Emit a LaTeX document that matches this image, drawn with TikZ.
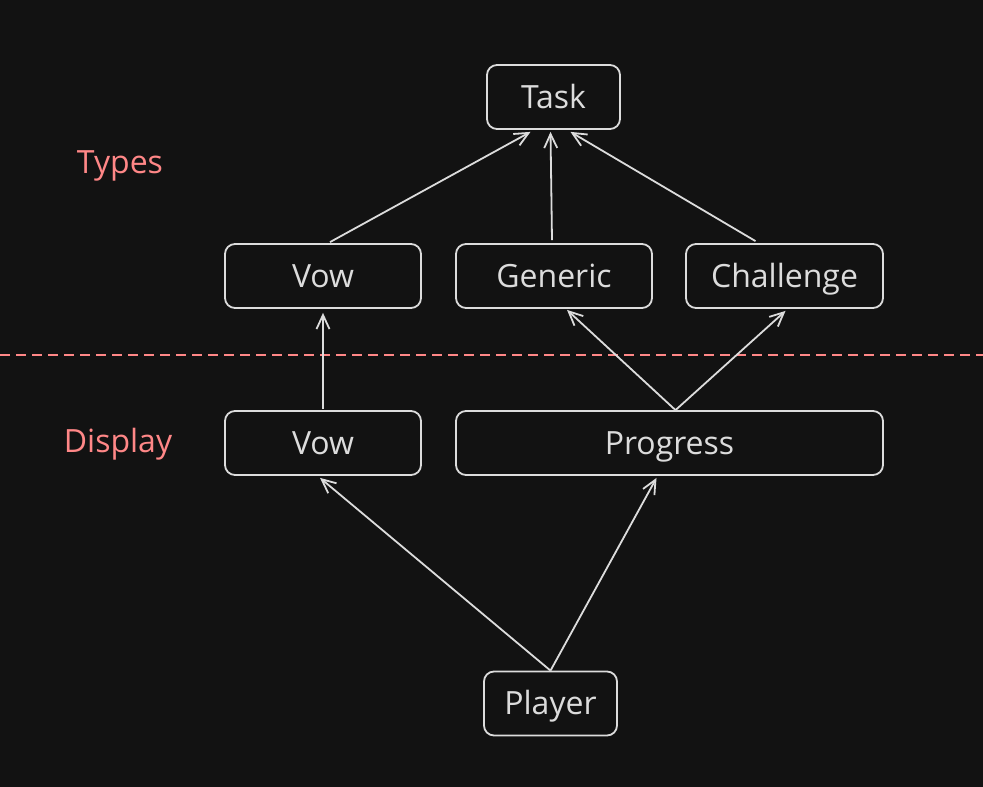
\documentclass[tikz,border=0pt]{standalone}
\usepackage{fontspec}
\setmainfont{Open Sans}
\usetikzlibrary{arrows.meta}
\definecolor{bg}{HTML}{121212}
\definecolor{ink}{HTML}{DCDCDC}
\definecolor{salmon}{HTML}{FF8787}
\begin{document}
\begin{tikzpicture}[x=1pt,y=-1pt,
  box/.style={draw=ink, line width=1.8pt, rounded corners=10pt, text=ink,
    minimum height=64pt, inner sep=0pt, text height=23pt, text depth=1pt,
    font=\fontsize{32}{38}\selectfont},
  lbl/.style={text=salmon, text height=23pt, text depth=1pt, font=\fontsize{32}{38}\selectfont},
  conn/.style={draw=ink, line width=1.8pt, -{Straight Barb[length=14pt,width=13pt,line width=1.8pt]}}]
\fill[bg] (0,0) rectangle (983,787);
\useasboundingbox (0,0) rectangle (983,787);
\node[box, minimum width=133pt] (task) at (553.5,97) {Task};
\node[box, minimum width=196pt] (vowT) at (323,276) {Vow};
\node[box, minimum width=196pt] (gen) at (554,276) {Generic};
\node[box, minimum width=197pt] (chal) at (784.5,276) {Challenge};
\node[box, minimum width=196pt] (vowD) at (323,443) {Vow};
\node[box, minimum width=427pt] (prog) at (669.5,443) {Progress};
\node[box, minimum width=133pt] (player) at (550.5,703.5) {Player};
\node[lbl] (types) at (120,162) {Types};
\node[lbl] (display) at (118,441) {Display};
\coordinate (dl) at (0,355);
\coordinate (dr) at (983,355);
\draw[salmon, line width=1.5pt, dash pattern=on 10pt off 6pt] (dl) -- (dr);
\draw[conn] ([xshift=7pt,yshift=1pt]vowT.north) -- ([xshift=-23pt,yshift=-2pt]task.south);
\draw[conn] ([xshift=-2pt,yshift=3pt]gen.north) -- ([xshift=-3pt,yshift=-2pt]task.south);
\draw[conn] ([xshift=-29pt,yshift=2pt]chal.north) -- ([xshift=17pt,yshift=-2pt]task.south);
\draw[conn] ([yshift=1pt]vowD.north) -- ([yshift=-4pt]vowT.south);
\draw[conn] ([xshift=6pt]prog.north) -- ([xshift=13pt,yshift=-1pt]gen.south);
\draw[conn] ([xshift=6pt]prog.north) -- ([xshift=1pt,yshift=-2pt]chal.south);
\draw[conn] (player.north) -- ([xshift=-3pt,yshift=-2pt]vowD.south);
\draw[conn] (player.north) -- ([xshift=-13pt,yshift=-2pt]prog.south);
\end{tikzpicture}
\end{document}
